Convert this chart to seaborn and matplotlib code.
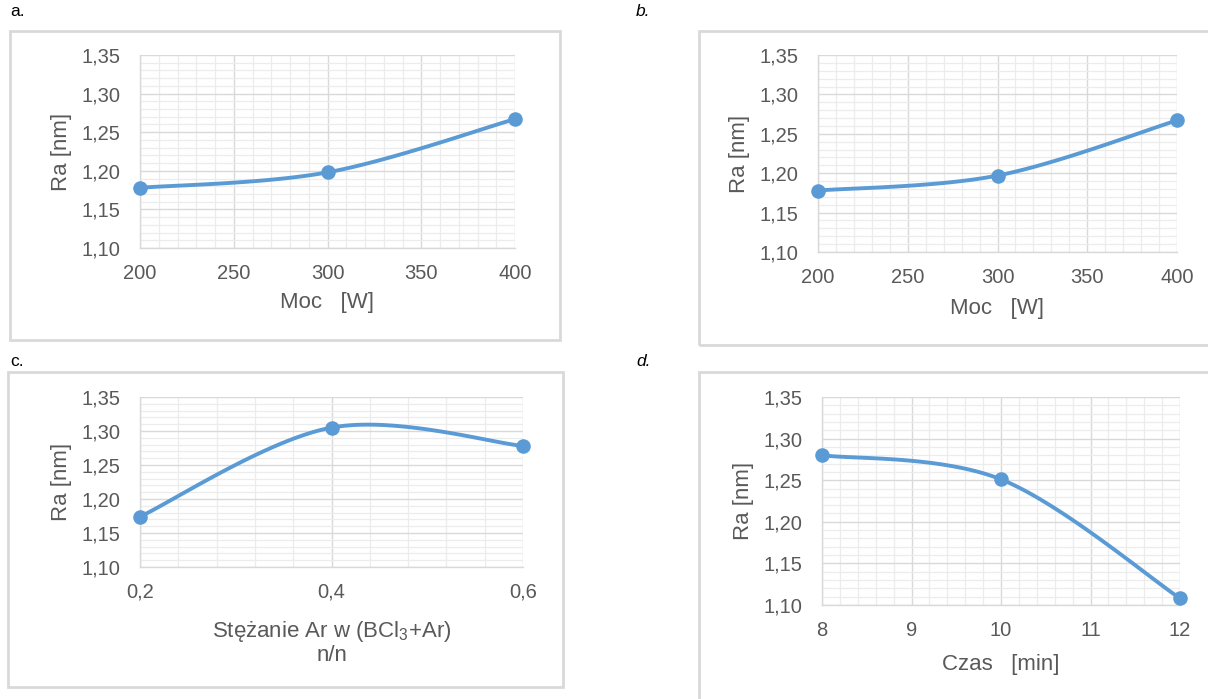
import numpy as np
import pandas as pd
import matplotlib
matplotlib.use("Agg")
import matplotlib.pyplot as plt
import seaborn as sns
from matplotlib.ticker import MultipleLocator, FuncFormatter
from matplotlib.patches import Rectangle

# ---------------- data ----------------
moc_a = [200, 300, 400]
ra_a = [1.178, 1.198, 1.267]
moc_b = [200, 300, 400]
ra_b = [1.178, 1.197, 1.267]
ar_c = [0.2, 0.4, 0.6]
ra_c = [1.174, 1.305, 1.278]
czas_d = [8, 10, 12]
ra_d = [1.280, 1.251, 1.108]

y_label = "Ra [nm]"
x_label_a = "Moc   [W]"
x_label_b = "Moc   [W]"
x_label_c = "Stężanie Ar w (BCl$_3$+Ar)\nn/n"
x_label_d = "Czas   [min]"
panel_labels = ["a.", "b.", "c.", "d."]

sns.set_theme(style="white")
plt.rcParams["font.family"] = ["Liberation Sans", "DejaVu Sans"]
plt.rcParams["mathtext.fontset"] = "custom"
plt.rcParams["mathtext.rm"] = "Liberation Sans"
plt.rcParams["mathtext.it"] = "Liberation Sans:italic"

W, H = 1208, 699
fig = plt.figure(figsize=(W / 100, H / 100), dpi=100)

BLUE = "#5b9bd5"
GRID = "#d9d9d9"
MINOR = "#ececec"
TXT = "#595959"


def smooth(x, y, n=60):
    """Excel-like smoothed line (Catmull-Rom as cubic Bezier)."""
    x = np.asarray(x, float)
    y = np.asarray(y, float)
    P = np.column_stack([x, y])
    Pe = np.vstack([P[0], P, P[-1]])
    out = []
    t = np.linspace(0, 1, n)[:, None]
    for i in range(len(P) - 1):
        p0, p1, p2, p3 = Pe[i], Pe[i + 1], Pe[i + 2], Pe[i + 3]
        c1 = p1 + (p2 - p0) / 6.0
        c2 = p2 - (p3 - p1) / 6.0
        b = ((1 - t) ** 3) * p1 + 3 * ((1 - t) ** 2) * t * c1 + 3 * (1 - t) * t ** 2 * c2 + t ** 3 * p2
        out.append(b if i == 0 else b[1:])
    B = np.vstack(out)
    return B[:, 0], B[:, 1]


def px_rect(x0, y0, x1, y1):
    return [x0 / W, 1 - y1 / H, (x1 - x0) / W, (y1 - y0) / H]


def comma(dec):
    return FuncFormatter(lambda v, p: f"{v:.{dec}f}".replace(".", ","))


def make_panel(rect_px, xs, ys, xmaj, xmin, xdec, xlabel, xlim, labelpad):
    ax = fig.add_axes(px_rect(*rect_px))
    cx, cy = smooth(xs, ys)
    df_line = pd.DataFrame({"x": cx, "y": cy})
    df_pts = pd.DataFrame({"x": xs, "y": ys})
    sns.lineplot(data=df_line, x="x", y="y", sort=False, estimator=None,
                 color=BLUE, lw=2.8, ax=ax, zorder=3)
    sns.scatterplot(data=df_pts, x="x", y="y", color=BLUE, s=110,
                    edgecolor=BLUE, linewidth=0, ax=ax, zorder=4, clip_on=False)
    ax.set_xlim(*xlim)
    ax.set_ylim(1.10, 1.35)
    ax.yaxis.set_major_locator(MultipleLocator(0.05))
    ax.yaxis.set_minor_locator(MultipleLocator(0.01))
    ax.xaxis.set_major_locator(MultipleLocator(xmaj))
    ax.xaxis.set_minor_locator(MultipleLocator(xmin))
    ax.yaxis.set_major_formatter(comma(2))
    ax.xaxis.set_major_formatter(comma(xdec))
    ax.grid(True, which="major", color=GRID, lw=1.0, zorder=1)
    ax.grid(True, which="minor", color=MINOR, lw=0.9, zorder=0)
    ax.set_axisbelow(True)
    for s in ["top", "right"]:
        ax.spines[s].set_visible(False)
    for s in ["left", "bottom"]:
        ax.spines[s].set_color(GRID)
        ax.spines[s].set_linewidth(1.0)
    ax.tick_params(axis="both", which="major", direction="out", length=5,
                   width=1.0, color=GRID, labelcolor=TXT, labelsize=14.5)
    ax.tick_params(axis="y", which="major", pad=9)
    ax.tick_params(axis="x", which="major", pad=6.5)
    ax.tick_params(axis="both", which="minor", length=0)
    ax.set_ylabel(y_label, color=TXT, fontsize=16, labelpad=7)
    ax.set_xlabel(xlabel, color=TXT, fontsize=16, labelpad=labelpad,
                  linespacing=1.1)
    return ax


# frames
for (x0, y0, x1, y1) in [(10, 31, 560, 340), (699, 31, 1220, 345),
                         (8, 372, 563, 687), (699, 372, 1220, 720)]:
    fig.patches.append(Rectangle((x0 / W, 1 - y1 / H), (x1 - x0) / W, (y1 - y0) / H,
                                 transform=fig.transFigure, fill=False,
                                 edgecolor="#d9d9d9", lw=2.0))

make_panel((140, 55, 515, 248), moc_a, ra_a, 50, 10, 0, x_label_a, (200, 400), 6.5)
make_panel((818, 55, 1177, 252), moc_b, ra_b, 50, 10, 0, x_label_b, (200, 400), 8)
make_panel((140, 397, 523, 567), ar_c, ra_c, 0.2, 0.04, 1, x_label_c, (0.2, 0.6), 12)
make_panel((822, 397, 1180, 605), czas_d, ra_d, 1, 0.2, 0, x_label_d, (8, 12), 10)

# panel letters
fig.text(10 / W, 1 - 12 / H, panel_labels[0], fontsize=12.5, color="black", va="center")
fig.text(636 / W, 1 - 12 / H, panel_labels[1], fontsize=12.5, color="black", va="center", style="italic")
fig.text(10 / W, 1 - 361 / H, panel_labels[2], fontsize=12.5, color="black", va="center")
fig.text(636 / W, 1 - 361 / H, panel_labels[3], fontsize=12.5, color="black", va="center", style="italic")

fig.savefig("out.png", dpi=100, facecolor="white")
